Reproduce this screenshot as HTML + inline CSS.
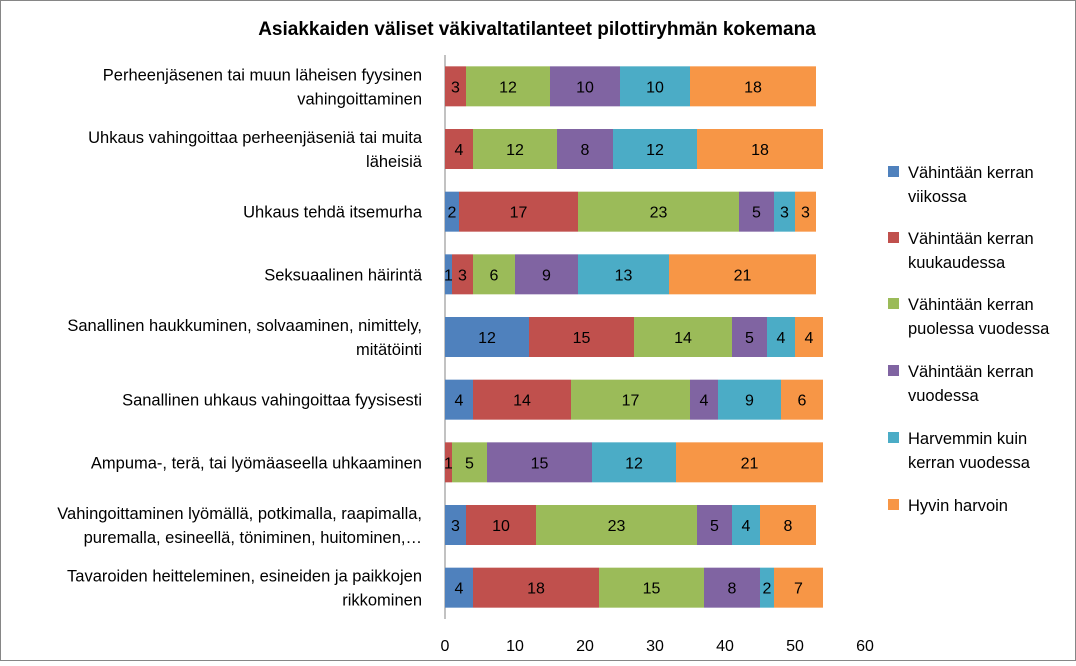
<!DOCTYPE html>
<html><head><meta charset="utf-8"><style>
body{margin:0;background:#fff}
svg{font-family:"Liberation Sans",Arial,sans-serif}
</style></head><body>
<svg width="1076" height="661">
<rect x="0.5" y="0.5" width="1075" height="660" fill="#fff" stroke="#868686"/>
<text x="537" y="35" text-anchor="middle" font-size="19" font-weight="bold">Asiakkaiden väliset väkivaltatilanteet pilottiryhmän kokemana</text>
<g id="plot"></g>
</svg>
<script>
const categories=[
["Perheenjäsenen tai muun läheisen fyysinen","vahingoittaminen"],
["Uhkaus vahingoittaa perheenjäseniä tai muita","läheisiä"],
["Uhkaus tehdä itsemurha"],
["Seksuaalinen häirintä"],
["Sanallinen haukkuminen, solvaaminen, nimittely,","mitätöinti"],
["Sanallinen uhkaus vahingoittaa fyysisesti"],
["Ampuma-, terä, tai lyömäaseella uhkaaminen"],
["Vahingoittaminen lyömällä, potkimalla, raapimalla,","puremalla, esineellä, töniminen, huitominen,…"],
["Tavaroiden heitteleminen, esineiden ja paikkojen","rikkominen"]];
const seriesNames=[["Vähintään kerran","viikossa"],["Vähintään kerran","kuukaudessa"],["Vähintään kerran","puolessa vuodessa"],["Vähintään kerran","vuodessa"],["Harvemmin kuin","kerran vuodessa"],["Hyvin harvoin"]];
const weekly=[0,0,2,1,12,4,0,3,4];
const monthly=[3,4,17,3,15,14,1,10,18];
const halfYear=[12,12,23,6,14,17,5,23,15];
const yearly=[10,8,5,9,5,4,15,5,8];
const rarer=[10,12,3,13,4,9,12,4,2];
const veryRare=[18,18,3,21,4,6,21,8,7];
const ticks=[0,10,20,30,40,50,60];
const series=[weekly,monthly,halfYear,yearly,rarer,veryRare];
const colors=["#4F81BD","#C0504D","#9BBB59","#8064A2","#4BACC6","#F79646"];
const NS="http://www.w3.org/2000/svg";
const g=document.getElementById('plot');
const x0=445,xScale=7,plotTop=55,plotBottom=619;
const band=(plotBottom-plotTop)/categories.length,barH=40;
const X=v=>x0+v*xScale;
const Yc=i=>plotTop+band*(i+0.5);
function mk(t,a){const e=document.createElementNS(NS,t);for(const k in a)e.setAttribute(k,a[k]);g.appendChild(e);return e;}
let ax=mk('line',{x1:x0,y1:plotTop,x2:x0,y2:plotBottom,stroke:'#868686'});


ticks.forEach(t=>{
 const tl=mk('text',{x:X(t),y:651,'text-anchor':'middle','font-size':16,fill:'#000'});
 tl.textContent=t;
 
 
});
categories.forEach((c,i)=>{
 const y=Yc(i);
 const lines=c.length;
 c.forEach((s,j)=>{
  const t=mk('text',{x:422,y:y+6+(j-(lines-1)/2)*24,'text-anchor':'end','font-size':16.5});
  t.textContent=s;
  
  
 });
 let acc=0;
 series.forEach((sr,k)=>{
  const v=sr[i];
  if(v>0){
   const r=mk('rect',{x:X(acc),y:y-barH/2,width:v*xScale,height:barH,fill:colors[k]});
   
   
   const t=mk('text',{x:X(acc+v/2),y:y+6,'text-anchor':'middle','font-size':16});
   t.textContent=v;
   
   
  }
  acc+=v;
 });
});
const legY=[178,244,310,377,444,511];
seriesNames.forEach((n,k)=>{
 const r=mk('rect',{x:888,y:legY[k]-12,width:11,height:11,fill:colors[k]});
 
 
 n.forEach((s,j)=>{
  const t=mk('text',{x:908,y:legY[k]+j*24,'font-size':16.5});
  t.textContent=s;
  
  
 });
});
</script>
</body></html>
